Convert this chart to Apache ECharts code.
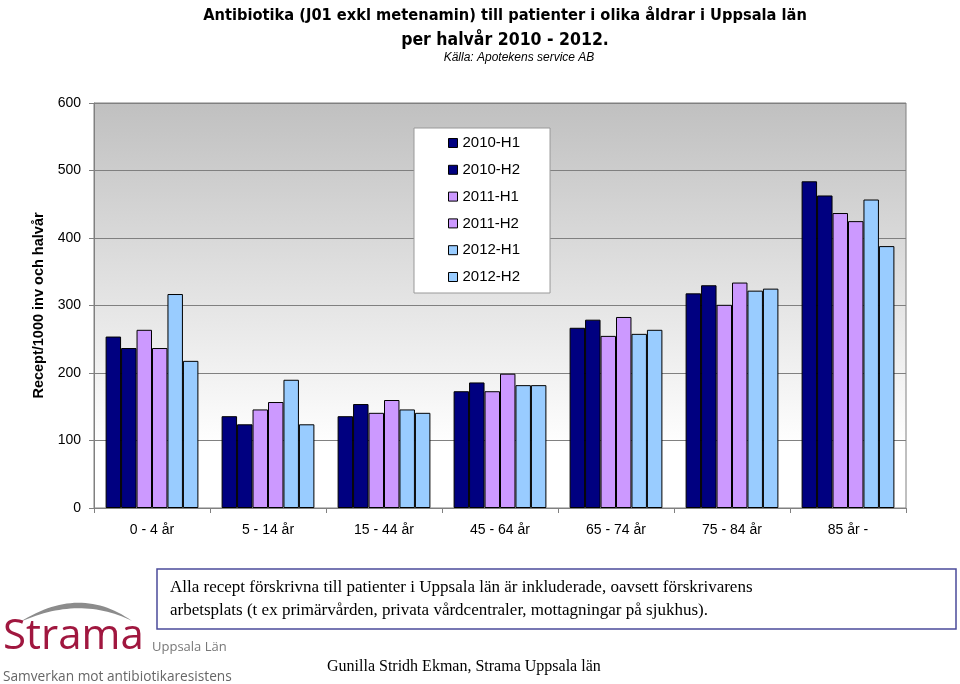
<!DOCTYPE html>
<html>
<head>
<meta charset="utf-8">
<script src="https://cdn.jsdelivr.net/npm/echarts@6/dist/echarts.min.js"></script>
<style>
html,body{margin:0;padding:0;background:#fff;}
#c{width:960px;height:684px;}
</style>
</head>
<body>
<div id="c"></div>
<script>
var categories = ["0 - 4 år", "5 - 14 år", "15 - 44 år", "45 - 64 år", "65 - 74 år", "75 - 84 år", "85 år -"];
var seriesNames = ["2010-H1", "2010-H2", "2011-H1", "2011-H2", "2012-H1", "2012-H2"];
var s2010H1 = [254, 136, 136, 173, 267, 318, 484];
var s2010H2 = [237, 124, 154, 186, 279, 330, 463];
var s2011H1 = [264, 146, 141, 173, 255, 301, 437];
var s2011H2 = [237, 157, 160, 199, 283, 334, 425];
var s2012H1 = [317, 190, 146, 182, 258, 322, 457];
var s2012H2 = [218, 124, 141, 182, 264, 325, 388];
var yTicks = [0, 100, 200, 300, 400, 500, 600];

var values = [s2010H1, s2010H2, s2011H1, s2011H2, s2012H1, s2012H2];
var colors = ["#000080", "#000080", "#CC99FF", "#CC99FF", "#99CCFF", "#99CCFF"];

var chart = echarts.init(document.getElementById('c'), null, {renderer: 'canvas'});
var sans = "'Liberation Sans', Arial, sans-serif";
var serif = "'Liberation Serif', 'Times New Roman', serif";
var narrow = "'Liberation Sans Narrow', 'DejaVu Sans Condensed', Arial, sans-serif";
var logoFont = '"Open Sans", "Noto Sans", sans-serif';

// logo swoosh (crescent) as polygon
function quad(p0, p1, p2, t) {
  var u = 1 - t;
  return [u * u * p0[0] + 2 * u * t * p1[0] + t * t * p2[0], u * u * p0[1] + 2 * u * t * p1[1] + t * t * p2[1]];
}
var swoosh = [];
for (var k = 0; k <= 30; k++) swoosh.push(quad([20, 622], [80, 584], [132, 621], k / 30));
for (var k2 = 30; k2 >= 0; k2--) swoosh.push(quad([20, 622], [80, 595], [132, 621], k2 / 30));

var series = seriesNames.map(function (n, i) {
  return {
    name: n,
    type: 'bar',
    data: values[i],
    barGap: '0%',
    barCategoryGap: '20%',
    itemStyle: {color: colors[i], borderColor: '#000', borderWidth: 1},
    emphasis: {disabled: true}
  };
});

chart.setOption({
  animation: false,
  backgroundColor: '#fff',
  title: [{
    text: 'Antibiotika (J01 exkl metenamin) till patienter i olika åldrar i Uppsala län',
    left: 500, top: 3, textAlign: 'center',
    textStyle: {fontFamily: narrow, fontWeight: 'bold', fontSize: 16.3, color: '#000'}
  }, {
    text: 'per halvår 2010 - 2012.',
    left: 500, top: 26, textAlign: 'center',
    textStyle: {fontFamily: narrow, fontWeight: 'bold', fontSize: 17.5, color: '#000'}
  }, {
    text: 'Källa: Apotekens service AB',
    left: 514, top: 47, textAlign: 'center',
    textStyle: {fontFamily: sans, fontStyle: 'italic', fontWeight: 'normal', fontSize: 12, color: '#000'}
  }],
  legend: {
    orient: 'vertical',
    left: 414, top: 128,
    backgroundColor: '#fff',
    borderColor: '#999',
    borderWidth: 1,
    padding: [7, 30, 8, 34],
    itemWidth: 9, itemHeight: 9,
    itemGap: 10.8,
    icon: 'rect',
    data: seriesNames,
    itemStyle: {borderColor: '#000', borderWidth: 1},
    textStyle: {fontFamily: sans, fontSize: 15, color: '#000', lineHeight: 16},
    selectedMode: false
  },
  grid: {
    left: 94, right: 54, top: 103, bottom: 176,
    show: true,
    borderColor: '#808080', borderWidth: 1,
    backgroundColor: new echarts.graphic.LinearGradient(0, 0, 0, 1, [
      {offset: 0, color: '#c0c0c0'},
      {offset: 0.85, color: '#ffffff'},
      {offset: 1, color: '#ffffff'}
    ])
  },
  xAxis: {
    type: 'category',
    data: categories,
    axisLine: {lineStyle: {color: '#808080'}},
    axisTick: {show: true, length: 5, lineStyle: {color: '#808080'}},
    axisLabel: {fontFamily: sans, fontSize: 14, color: '#000', margin: 15},
    splitLine: {show: false}
  },
  yAxis: {
    type: 'value',
    min: 0, max: 600, interval: 100,
    name: 'Recept/1000 inv och halvår',
    nameLocation: 'middle',
    nameGap: 45,
    nameTextStyle: {fontFamily: sans, fontWeight: 'bold', fontSize: 14.5, color: '#000'},
    axisLine: {show: true, lineStyle: {color: '#808080'}},
    axisTick: {show: true, length: 5, lineStyle: {color: '#808080'}},
    axisLabel: {fontFamily: sans, fontSize: 14, color: '#000', margin: 13,
      formatter: function (v) { return yTicks.indexOf(v) >= 0 ? String(v) : ''; }},
    splitLine: {show: true, lineStyle: {color: '#808080', width: 1}}
  },
  series: series,
  graphic: [
    {type: 'rect', shape: {x: 157, y: 569, width: 799, height: 60}, style: {fill: '#fff', stroke: '#4b4b9b', lineWidth: 1.5}},
    {type: 'text', x: 170, y: 588, style: {text: 'Alla recept förskrivna till patienter i Uppsala län är inkluderade, oavsett förskrivarens', font: '17px ' + serif, fill: '#000', textVerticalAlign: 'middle'}},
    {type: 'text', x: 170, y: 611, style: {text: 'arbetsplats (t ex primärvården, privata vårdcentraler, mottagningar på sjukhus).', font: '17px ' + serif, fill: '#000', textVerticalAlign: 'middle'}},
    {type: 'text', x: 327, y: 667, style: {text: 'Gunilla Stridh Ekman, Strama Uppsala län', font: '16px ' + serif, fill: '#000', textVerticalAlign: 'middle'}},
    {type: 'polygon', shape: {points: swoosh}, style: {fill: '#8c8c8c'}},
    {type: 'text', x: 3, y: 637, style: {text: 'Strama', font: '42px ' + logoFont, fill: '#a0173f', textVerticalAlign: 'middle'}},
    {type: 'text', x: 152, y: 647, style: {text: 'Uppsala Län', font: '13px ' + logoFont, fill: '#777', textVerticalAlign: 'middle'}},
    {type: 'text', x: 3, y: 677, style: {text: 'Samverkan mot antibiotikaresistens', font: '13.7px ' + logoFont, fill: '#666', textVerticalAlign: 'middle'}}
  ]
});
</script>
</body>
</html>
